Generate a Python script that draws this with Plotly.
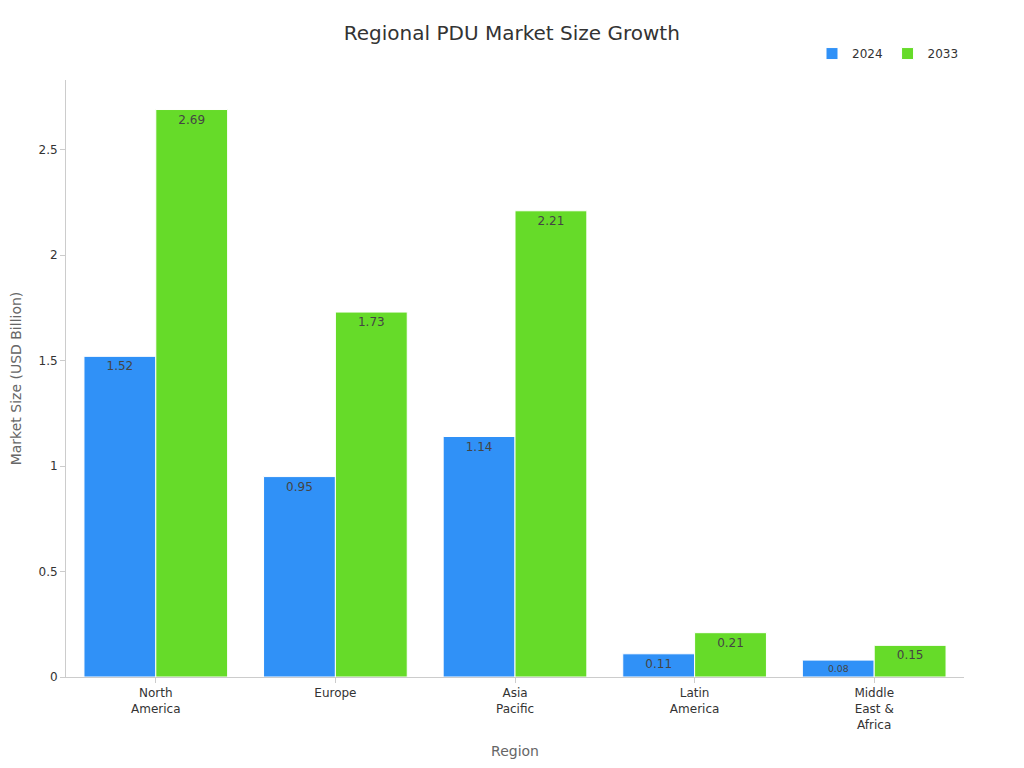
import plotly.graph_objects as go

regions = ["North<br>America", "Europe", "Asia<br>Pacific", "Latin<br>America", "Middle<br>East &<br>Africa"]
size_2024 = [1.52, 0.95, 1.14, 0.11, 0.08]
size_2033 = [2.69, 1.73, 2.21, 0.21, 0.15]

fig = go.Figure()
for name, vals, col in [("2024", size_2024, "#3091f7"), ("2033", size_2033, "#66db29")]:
    fig.add_trace(go.Bar(
        x=regions, y=vals, name=name,
        marker=dict(color=col, line=dict(color="white", width=1)),
        text=[str(v) for v in vals],
        textposition="inside", insidetextanchor="end",
        textfont=dict(color="#444444", size=12),
        textangle=0,
    ))

fig.update_layout(
    title=dict(text="Regional PDU Market Size Growth", x=0.492, xref="container", y=0.976,
               font=dict(size=20, color="#333333")),
    font=dict(family="DejaVu Sans", size=12, color="#333333"),
    barmode="group", bargap=0.2, bargroupgap=0,
    plot_bgcolor="white", paper_bgcolor="white",
    width=1024, height=768,
    margin=dict(l=58, r=68, t=72, b=99),
    legend=dict(orientation="h", x=1, xanchor="right", y=1.02, yanchor="bottom",
                font=dict(size=12)),
    xaxis=dict(title=dict(text="Region", font=dict(size=14, color="#666666")),
               showline=True, linecolor="#cccccc", ticks="outside",
               tickcolor="#cccccc", ticklen=5, automargin=False),
    yaxis=dict(title=dict(text="Market Size (USD Billion)", font=dict(size=14, color="#666666")),
               range=[0, 2.83], showgrid=False, showline=True, linecolor="#cccccc",
               ticks="outside", tickcolor="#cccccc", ticklen=5, zeroline=False, automargin=False,
               tickvals=[0, 0.5, 1, 1.5, 2, 2.5], ticktext=["0", "0.5", "1", "1.5", "2", "2.5"]),
)
fig.write_html("out.html")
